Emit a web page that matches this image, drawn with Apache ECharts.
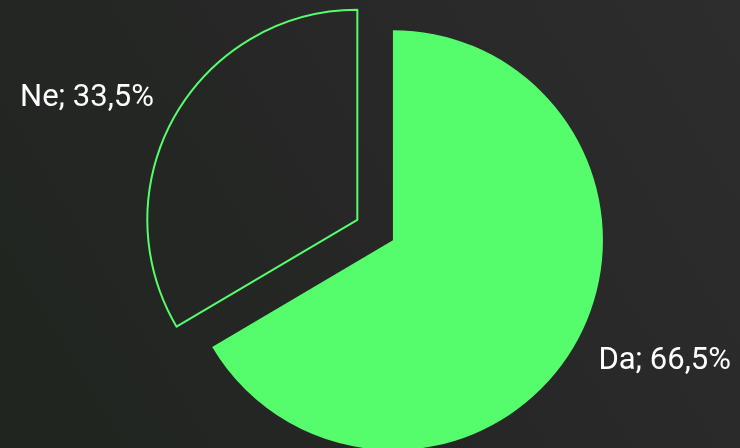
<!DOCTYPE html>
<html>
<head>
<meta charset="utf-8">
<script src="https://cdn.jsdelivr.net/npm/echarts@6/dist/echarts.min.js"></script>
<style>
html,body{margin:0;padding:0;background:#262826;}
#chart{width:740px;height:448px;}
</style>
</head>
<body>
<div id="chart"></div>
<script>
var categories = ['Da', 'Ne'];
var values = [66.5, 33.5];
var labelTexts = ['Da; 66,5%', 'Ne; 33,5%'];

var green = '#55FD6C';
var chart = echarts.init(document.getElementById('chart'), null, {renderer: 'canvas'});
var data = categories.map(function (c, i) {
  var item = {name: c, value: values[i]};
  if (i === 1) {
    item.selected = true;
    item.itemStyle = {color: 'rgba(0,0,0,0)', borderColor: green, borderWidth: 2};
  } else {
    item.itemStyle = {color: green, borderWidth: 0};
  }
  return item;
});
var labelShift = [[0, 10], [2, -10]];
chart.setOption({
  animation: false,
  backgroundColor: {
    type: 'linear', x: 1, y: 0, x2: 0, y2: 1,
    colorStops: [{offset: 0, color: '#2d2d2d'}, {offset: 0.5, color: '#262726'}, {offset: 1, color: '#20251f'}]
  },
  series: [{
    type: 'pie',
    center: ['53.1%', '53.6%'],
    radius: [0, 210],
    startAngle: 90,
    clockwise: true,
    selectedMode: 'single',
    selectedOffset: 41,
    data: data,
    label: {
      show: true,
      position: 'outside',
      formatter: function (p) { return labelTexts[p.dataIndex]; },
      color: '#ffffff',
      fontFamily: 'Roboto',
      fontSize: 31,
      overflow: 'none'
    },
    labelLine: {show: false, length: 15, length2: 5},
    labelLayout: function (p) {
      var s = labelShift[p.dataIndex];
      return {dx: s[0], dy: s[1]};
    },
    emphasis: {disabled: true}
  }]
});
</script>
</body>
</html>
